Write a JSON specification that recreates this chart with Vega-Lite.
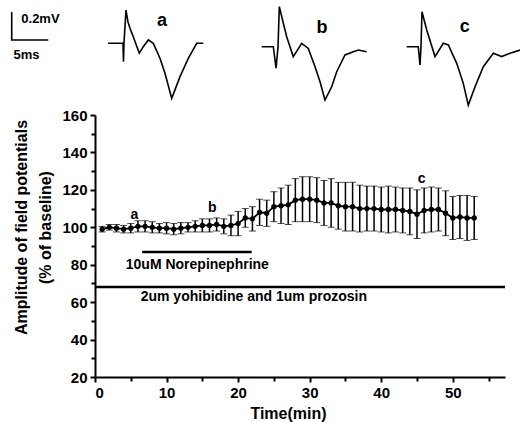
{
  "$schema": "https://vega.github.io/schema/vega-lite/v6.json",
  "width": 410,
  "height": 262,
  "autosize": "none",
  "padding": {"left": 95, "top": 115, "right": 15, "bottom": 45},
  "background": "white",
  "config": {"view": {"stroke": null}, "font": "Liberation Sans"},
  "datasets": {
    "series": [
      {"t": 1, "m": 99.0, "lo": 97.5, "hi": 100.5},
      {"t": 2, "m": 100.0, "lo": 98.5, "hi": 101.5},
      {"t": 3, "m": 99.5, "lo": 97.5, "hi": 101.5},
      {"t": 4, "m": 99.0, "lo": 97.0, "hi": 101.0},
      {"t": 5, "m": 99.5, "lo": 97.0, "hi": 102.0},
      {"t": 6, "m": 100.5, "lo": 97.5, "hi": 103.5},
      {"t": 7, "m": 100.5, "lo": 97.5, "hi": 103.5},
      {"t": 8, "m": 100.0, "lo": 97.0, "hi": 103.0},
      {"t": 9, "m": 99.5, "lo": 97.0, "hi": 102.0},
      {"t": 10, "m": 99.5, "lo": 96.5, "hi": 102.5},
      {"t": 11, "m": 99.0, "lo": 96.0, "hi": 102.0},
      {"t": 12, "m": 99.5, "lo": 96.5, "hi": 102.5},
      {"t": 13, "m": 100.0, "lo": 97.5, "hi": 102.5},
      {"t": 14, "m": 100.5, "lo": 97.5, "hi": 103.5},
      {"t": 15, "m": 101.0, "lo": 97.5, "hi": 104.5},
      {"t": 16, "m": 101.0, "lo": 97.5, "hi": 104.5},
      {"t": 17, "m": 101.5, "lo": 98.0, "hi": 105.0},
      {"t": 18, "m": 100.5, "lo": 96.5, "hi": 104.5},
      {"t": 19, "m": 101.0, "lo": 95.5, "hi": 106.5},
      {"t": 20, "m": 102.0, "lo": 95.5, "hi": 108.5},
      {"t": 21, "m": 105.0, "lo": 100.0, "hi": 110.0},
      {"t": 22, "m": 104.5, "lo": 98.0, "hi": 111.0},
      {"t": 23, "m": 108.0, "lo": 101.0, "hi": 115.0},
      {"t": 24, "m": 107.5, "lo": 100.5, "hi": 114.5},
      {"t": 25, "m": 111.0, "lo": 103.0, "hi": 119.0},
      {"t": 26, "m": 111.5, "lo": 102.0, "hi": 121.0},
      {"t": 27, "m": 112.0, "lo": 101.5, "hi": 122.5},
      {"t": 28, "m": 114.5, "lo": 103.0, "hi": 126.0},
      {"t": 29, "m": 115.0, "lo": 103.0, "hi": 127.0},
      {"t": 30, "m": 115.0, "lo": 103.0, "hi": 127.0},
      {"t": 31, "m": 114.5, "lo": 102.5, "hi": 126.5},
      {"t": 32, "m": 113.0, "lo": 101.0, "hi": 125.0},
      {"t": 33, "m": 113.0, "lo": 100.0, "hi": 126.0},
      {"t": 34, "m": 111.5, "lo": 99.0, "hi": 124.0},
      {"t": 35, "m": 111.0, "lo": 98.0, "hi": 124.0},
      {"t": 36, "m": 111.0, "lo": 98.0, "hi": 124.0},
      {"t": 37, "m": 110.0, "lo": 97.5, "hi": 122.5},
      {"t": 38, "m": 110.0, "lo": 98.0, "hi": 122.0},
      {"t": 39, "m": 110.0, "lo": 98.0, "hi": 122.0},
      {"t": 40, "m": 109.5, "lo": 97.5, "hi": 121.5},
      {"t": 41, "m": 109.5, "lo": 97.0, "hi": 122.0},
      {"t": 42, "m": 109.5, "lo": 97.5, "hi": 121.5},
      {"t": 43, "m": 109.0, "lo": 97.0, "hi": 121.0},
      {"t": 44, "m": 108.5, "lo": 96.0, "hi": 121.0},
      {"t": 45, "m": 107.0, "lo": 94.0, "hi": 120.0},
      {"t": 46, "m": 109.0, "lo": 97.0, "hi": 121.0},
      {"t": 47, "m": 109.5, "lo": 97.5, "hi": 121.5},
      {"t": 48, "m": 109.5, "lo": 98.0, "hi": 121.0},
      {"t": 49, "m": 107.5, "lo": 95.5, "hi": 119.5},
      {"t": 50, "m": 105.0, "lo": 93.5, "hi": 116.5},
      {"t": 51, "m": 105.5, "lo": 94.0, "hi": 117.0},
      {"t": 52, "m": 105.0, "lo": 93.0, "hi": 117.0},
      {"t": 53, "m": 105.0, "lo": 93.5, "hi": 116.5}
    ],
    "traces": [
      {"tr": "a", "i": 0, "t": 1.82, "v": 198.3},
      {"tr": "a", "i": 1, "t": 3.91, "v": 198.3},
      {"tr": "a", "i": 2, "t": 3.98, "v": 188.5},
      {"tr": "a", "i": 3, "t": 4.05, "v": 198.3},
      {"tr": "a", "i": 4, "t": 4.33, "v": 216.1},
      {"tr": "a", "i": 5, "t": 4.61, "v": 209.7},
      {"tr": "a", "i": 6, "t": 4.89, "v": 206.3},
      {"tr": "a", "i": 7, "t": 5.35, "v": 201.8},
      {"tr": "a", "i": 8, "t": 6.19, "v": 193.0},
      {"tr": "a", "i": 9, "t": 6.75, "v": 196.5},
      {"tr": "a", "i": 10, "t": 7.45, "v": 200.1},
      {"tr": "a", "i": 11, "t": 8.15, "v": 198.3},
      {"tr": "a", "i": 12, "t": 9.08, "v": 190.3},
      {"tr": "a", "i": 13, "t": 9.78, "v": 182.3},
      {"tr": "a", "i": 14, "t": 10.72, "v": 168.9},
      {"tr": "a", "i": 15, "t": 11.88, "v": 180.5},
      {"tr": "a", "i": 16, "t": 13.04, "v": 190.3},
      {"tr": "a", "i": 17, "t": 14.21, "v": 198.3},
      {"tr": "a", "i": 18, "t": 15.14, "v": 198.3},
      {"tr": "b", "i": 0, "t": 23.30, "v": 196.5},
      {"tr": "b", "i": 1, "t": 24.92, "v": 196.5},
      {"tr": "b", "i": 2, "t": 25.30, "v": 185.0},
      {"tr": "b", "i": 3, "t": 25.58, "v": 196.5},
      {"tr": "b", "i": 4, "t": 25.76, "v": 217.9},
      {"tr": "b", "i": 5, "t": 26.32, "v": 209.0},
      {"tr": "b", "i": 6, "t": 26.79, "v": 201.8},
      {"tr": "b", "i": 7, "t": 27.71, "v": 191.2},
      {"tr": "b", "i": 8, "t": 28.89, "v": 198.3},
      {"tr": "b", "i": 9, "t": 29.81, "v": 195.6},
      {"tr": "b", "i": 10, "t": 30.75, "v": 185.8},
      {"tr": "b", "i": 11, "t": 31.45, "v": 177.8},
      {"tr": "b", "i": 12, "t": 32.14, "v": 168.0},
      {"tr": "b", "i": 13, "t": 33.08, "v": 175.1},
      {"tr": "b", "i": 14, "t": 33.78, "v": 183.1},
      {"tr": "b", "i": 15, "t": 34.94, "v": 192.1},
      {"tr": "b", "i": 16, "t": 36.10, "v": 193.8},
      {"tr": "b", "i": 17, "t": 36.80, "v": 194.7},
      {"tr": "b", "i": 18, "t": 37.97, "v": 193.8},
      {"tr": "c", "i": 0, "t": 43.56, "v": 196.5},
      {"tr": "c", "i": 1, "t": 45.18, "v": 196.5},
      {"tr": "c", "i": 2, "t": 45.42, "v": 186.7},
      {"tr": "c", "i": 3, "t": 45.56, "v": 196.5},
      {"tr": "c", "i": 4, "t": 45.70, "v": 215.2},
      {"tr": "c", "i": 5, "t": 46.36, "v": 205.4},
      {"tr": "c", "i": 6, "t": 47.52, "v": 191.2},
      {"tr": "c", "i": 7, "t": 48.68, "v": 198.3},
      {"tr": "c", "i": 8, "t": 49.38, "v": 197.4},
      {"tr": "c", "i": 9, "t": 50.55, "v": 187.6},
      {"tr": "c", "i": 10, "t": 51.47, "v": 176.9},
      {"tr": "c", "i": 11, "t": 52.17, "v": 165.3},
      {"tr": "c", "i": 12, "t": 53.11, "v": 175.1},
      {"tr": "c", "i": 13, "t": 54.27, "v": 185.8},
      {"tr": "c", "i": 14, "t": 55.67, "v": 193.0},
      {"tr": "c", "i": 15, "t": 56.84, "v": 191.2},
      {"tr": "c", "i": 16, "t": 58.00, "v": 193.0},
      {"tr": "c", "i": 17, "t": 59.40, "v": 194.7},
      {"tr": "s", "i": 0, "t": -11.64, "v": 215.0},
      {"tr": "s", "i": 1, "t": -11.64, "v": 200.1},
      {"tr": "s", "i": 2, "t": -6.53, "v": 200.1}
    ]
  },
  "layer": [
    {
      "data": {"values": [{"t": 0, "t2": 57.3, "v": 68.1}]},
      "mark": {"type": "rule", "color": "black", "strokeWidth": 2.5},
      "encoding": {
        "x": {"field": "t", "type": "quantitative",
              "scale": {"domain": [0, 57.3], "nice": false, "zero": false},
              "axis": {"orient": "bottom", "values": [5, 15, 25, 35, 45, 55], "labels": false, "domain": false, "grid": false, "title": null, "tickSize": 4, "tickWidth": 2, "tickColor": "black"}},
        "x2": {"field": "t2"},
        "y": {"field": "v", "type": "quantitative",
              "scale": {"domain": [20, 160], "nice": false, "zero": false},
              "axis": {"orient": "left", "values": [30, 50, 70, 90, 110, 130, 150], "labels": false, "domain": false, "grid": false, "title": null, "tickSize": 4, "tickWidth": 2, "tickColor": "black"}}
      }
    },
    {
      "data": {"values": [{"t": 6.6, "t2": 21.9, "v": 86.8}]},
      "mark": {"type": "rule", "color": "black", "strokeWidth": 2.5},
      "encoding": {
        "x": {"field": "t", "type": "quantitative", "scale": {"domain": [0, 57.3], "nice": false, "zero": false}, "axis": null},
        "x2": {"field": "t2"},
        "y": {"field": "v", "type": "quantitative", "scale": {"domain": [20, 160], "nice": false, "zero": false}, "axis": null}
      }
    },
    {
      "data": {"values": [
        {"label": "10uM Norepinephrine", "t": 14.3, "v": 79.8},
        {"label": "2um yohibidine and 1um prozosin", "t": 22.2, "v": 62.8}
      ]},
      "mark": {"type": "text", "font": "Liberation Sans", "fontWeight": "bold", "fontSize": 14, "color": "black", "align": "center", "baseline": "middle"},
      "encoding": {
        "x": {"field": "t", "type": "quantitative", "scale": {"domain": [0, 57.3], "nice": false, "zero": false}, "axis": null},
        "y": {"field": "v", "type": "quantitative", "scale": {"domain": [20, 160], "nice": false, "zero": false}, "axis": null},
        "text": {"field": "label"}
      }
    },
    {
      "data": {"name": "series"},
      "mark": {"type": "errorbar", "color": "black", "ticks": {"size": 7, "strokeWidth": 1.5}, "rule": {"strokeWidth": 1.5}},
      "encoding": {
        "x": {"field": "t", "type": "quantitative", "scale": {"domain": [0, 57.3], "nice": false, "zero": false}, "axis": null},
        "y": {"field": "lo", "type": "quantitative", "scale": {"domain": [20, 160], "nice": false, "zero": false}, "axis": null},
        "y2": {"field": "hi"}
      }
    },
    {
      "data": {"name": "series"},
      "mark": {"type": "line", "color": "black", "strokeWidth": 1.8, "point": {"filled": true, "size": 28, "color": "black"}},
      "encoding": {
        "x": {"field": "t", "type": "quantitative",
              "scale": {"domain": [0, 57.3], "nice": false, "zero": false},
              "axis": {"orient": "bottom", "values": [0, 10, 20, 30, 40, 50], "grid": false, "title": "Time(min)",
                       "titleFont": "Liberation Sans", "titleFontSize": 16, "titleFontWeight": "bold", "titleColor": "black",
                       "titleX": 193, "titleY": 36, "titleAlign": "center", "titleBaseline": "middle",
                       "labelFont": "Liberation Sans", "labelFontSize": 15, "labelFontWeight": "bold", "labelColor": "black", "labelPadding": 3,
                       "tickSize": 5, "tickWidth": 2, "tickColor": "black", "domainColor": "black", "domainWidth": 2}},
        "y": {"field": "m", "type": "quantitative",
              "scale": {"domain": [20, 160], "nice": false, "zero": false},
              "axis": {"orient": "left", "values": [20, 40, 60, 80, 100, 120, 140, 160], "grid": false,
                       "title": ["Amplitude of field potentials", "(% of baseline)"],
                       "titleFont": "Liberation Sans", "titleFontSize": 16, "titleFontWeight": "bold", "titleColor": "black",
                       "titleAngle": -90, "titleX": -82, "titleY": 112, "titleAlign": "center", "titleBaseline": "top", "titleLineHeight": 24,
                       "labelFont": "Liberation Sans", "labelFontSize": 15, "labelFontWeight": "bold", "labelColor": "black", "labelPadding": 3,
                       "tickSize": 5, "tickWidth": 2, "tickColor": "black", "domainColor": "black", "domainWidth": 2}}
      }
    },
    {
      "data": {"values": [
        {"label": "a", "t": 5.5, "v": 106.8},
        {"label": "b", "t": 16.4, "v": 110.2},
        {"label": "c", "t": 45.65, "v": 125.8}
      ]},
      "mark": {"type": "text", "font": "Liberation Sans", "fontWeight": "bold", "fontSize": 14, "color": "black", "align": "center", "baseline": "middle"},
      "encoding": {
        "x": {"field": "t", "type": "quantitative", "scale": {"domain": [0, 57.3], "nice": false, "zero": false}, "axis": null},
        "y": {"field": "v", "type": "quantitative", "scale": {"domain": [20, 160], "nice": false, "zero": false}, "axis": null},
        "text": {"field": "label"}
      }
    },
    {
      "data": {"name": "traces"},
      "mark": {"type": "line", "color": "black", "strokeWidth": 1.6},
      "encoding": {
        "x": {"field": "t", "type": "quantitative", "scale": {"domain": [0, 57.3], "nice": false, "zero": false}, "axis": null},
        "y": {"field": "v", "type": "quantitative", "scale": {"domain": [20, 160], "nice": false, "zero": false}, "axis": null},
        "detail": {"field": "tr"},
        "order": {"field": "i", "type": "quantitative"}
      }
    },
    {
      "data": {"values": [
        {"label": "a", "t": 9.36, "v": 210.2},
        {"label": "b", "t": 31.73, "v": 206.5},
        {"label": "c", "t": 51.69, "v": 207.0}
      ]},
      "mark": {"type": "text", "font": "Liberation Sans", "fontWeight": "bold", "fontSize": 18, "color": "black", "align": "center", "baseline": "middle"},
      "encoding": {
        "x": {"field": "t", "type": "quantitative", "scale": {"domain": [0, 57.3], "nice": false, "zero": false}, "axis": null},
        "y": {"field": "v", "type": "quantitative", "scale": {"domain": [20, 160], "nice": false, "zero": false}, "axis": null},
        "text": {"field": "label"}
      }
    },
    {
      "data": {"values": [
        {"label": "0.2mV", "t": -10.3, "v": 211.5},
        {"label": "5ms", "t": -11.4, "v": 192.1}
      ]},
      "mark": {"type": "text", "font": "Liberation Sans", "fontWeight": "bold", "fontSize": 13, "color": "black", "align": "left", "baseline": "middle"},
      "encoding": {
        "x": {"field": "t", "type": "quantitative", "scale": {"domain": [0, 57.3], "nice": false, "zero": false}, "axis": null},
        "y": {"field": "v", "type": "quantitative", "scale": {"domain": [20, 160], "nice": false, "zero": false}, "axis": null},
        "text": {"field": "label"}
      }
    }
  ],
  "resolve": {"axis": {"x": "independent", "y": "independent"}}
}
